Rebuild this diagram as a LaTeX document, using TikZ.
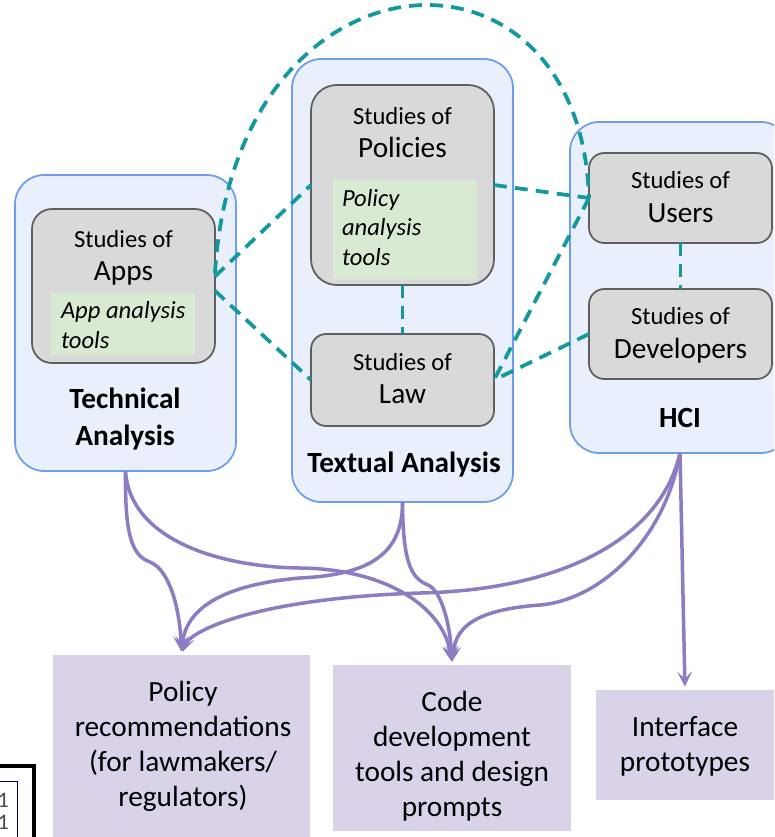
\documentclass[tikz,border=0pt]{standalone}
\usepackage{fontspec}
\setmainfont{Carlito}
\usetikzlibrary{arrows.meta}
\definecolor{areafill}{RGB}{233,240,251}
\definecolor{arealine}{RGB}{109,158,235}
\definecolor{studyfill}{RGB}{217,217,217}
\definecolor{studyline}{RGB}{95,95,95}
\definecolor{toolfill}{RGB}{217,234,211}
\definecolor{outfill}{RGB}{217,210,233}
\definecolor{linkcol}{RGB}{18,152,158}
\definecolor{feedcol}{RGB}{142,124,195}

\begin{document}
\begin{tikzpicture}[x=0.03cm,y=-0.03cm,inner sep=0pt,outer sep=0pt,
    area/.style={draw=arealine,fill=areafill,line width=1.5pt,rounded corners=25pt},
    study/.style={draw=studyline,fill=studyfill,line width=1.5pt,minimum width=5.49cm},
    toolbox/.style={fill=toolfill,minimum width=4.32cm},
    outbox/.style={fill=outfill},
    sub/.style={anchor=base,font=\fontsize{21}{25}\selectfont},
    big/.style={anchor=base,font=\fontsize{25}{30}\selectfont},
    tooltext/.style={anchor=base west,align=left,font=\fontsize{21}{25}\selectfont\itshape},
    head/.style={anchor=base,align=center,font=\fontsize{25}{31.5}\selectfont\bfseries},
    outtext/.style={anchor=base,align=center,font=\fontsize{25}{30}\selectfont},
    link/.style={draw=linkcol,line width=3.2pt,dash pattern=on 11pt off 7pt},
    feed/.style={draw=feedcol,line width=3pt,shorten >=3pt,-{Stealth[length=13pt,width=13pt,inset=6.5pt]}}]
    \path[clip,use as bounding box] (0,0) rectangle (774,837);
    \fill[white] (0,0) rectangle (774,837);

    \node (ta) [area,minimum width=6.63cm,minimum height=8.88cm] at (125.5,323) {};
    \node (txt) [area,minimum width=6.63cm,minimum height=13.29cm] at (402.5,280.5) {};
    \node (hci) [area,minimum width=6.6cm,minimum height=9.93cm] at (680,287.5) {};

    \node (apps) [study,minimum height=4.62cm,rounded corners=17pt] at (123.5,286) {};
    \node (pols) [study,minimum height=6cm,rounded corners=22pt] at (402.5,185) {};
    \node (law) [study,minimum height=2.76cm,rounded corners=13pt] at (402.5,380) {};
    \node (users) [study,minimum height=2.7cm,rounded corners=13pt] at (680.5,198) {};
    \node (devs) [study,minimum height=2.7cm,rounded corners=13pt] at (680.5,334) {};

    \node (appstool) [toolbox,minimum height=1.86cm] at (123,324) {};
    \node (polstool) [toolbox,minimum height=2.97cm] at (405,229.5) {};

    \node (appsa) [sub] at (123.5,247) {Studies of};
    \node (appsb) [big] at (123.5,280) {Apps};
    \node (appsc) [tooltext] at (61,348) {App analysis\\tools};
    \node (polsa) [sub] at (402.5,124) {Studies of};
    \node (polsb) [big] at (402.5,157) {Policies};
    \node (polsc) [tooltext] at (342,265) {Policy\\analysis\\tools};
    \node (lawa) [sub] at (402.5,370) {Studies of};
    \node (lawb) [big] at (402.5,403) {Law};
    \node (usersa) [sub] at (680.5,188) {Studies of};
    \node (usersb) [big] at (680.5,222) {Users};
    \node (devsa) [sub] at (680.5,324) {Studies of};
    \node (devsb) [big] at (680.5,358) {Developers};

    \node (tahead) [head] at (125,445) {Technical\\Analysis};
    \node (txthead) [head] at (404,472) {Textual Analysis};
    \node (hcihead) [head] at (680,427) {HCI};

    \node (pol) [outbox,minimum width=7.71cm,minimum height=5.85cm] at (181.5,752.5) {};
    \node (code) [outbox,minimum width=7.14cm,minimum height=4.98cm] at (452,748) {};
    \node (iface) [outbox,minimum width=5.34cm,minimum height=3.3cm] at (685,745) {};
    \node (polt) [outtext] at (183,806.7) {Policy\\recommendations\\(for lawmakers/\\regulators)};
    \node (codet) [outtext] at (452,816.7) {Code\\development\\tools and design\\prompts};
    \node (ifacet) [outtext] at (685,771.7) {Interface\\prototypes};

    \draw[link] (apps.6) -- (pols.west);
    \draw[link] (apps.-3) -- (law.west);
    \draw[link] (apps.8) .. controls (235,-60) and (580,-80) .. (users.west);
    \draw[link] (pols.east) -- (users.west);
    \draw[link] (users.west) -- (law.east);
    \draw[link] (devs.west) -- (law.east);
    \draw[link] (pols.south) -- (law.north);
    \draw[link] (users.south) -- (devs.north);

    \draw[feed] (ta.south) .. controls (125,530) and (130,555) .. (150,562) .. controls (170,570) and (180,610) .. (pol.north);
    \draw[feed] (ta.south) .. controls (130,540) and (220,567) .. (300,568) .. controls (390,569) and (445,610) .. (code.north);
    \draw[feed] (txt.south) .. controls (403,560) and (360,575) .. (300,578) .. controls (220,585) and (185,610) .. (pol.north);
    \draw[feed] (txt.south) .. controls (403,560) and (410,578) .. (428,585) .. controls (440,590) and (450,620) .. (code.north);
    \draw[feed] (hci.south) .. controls (660,540) and (560,590) .. (420,593) .. controls (260,598) and (190,630) .. (pol.north);
    \draw[feed] (hci.south) .. controls (665,540) and (600,600) .. (540,605) .. controls (470,610) and (455,630) .. (code.north);
    \draw[feed] (hci.south) -- (iface.north);

    \draw[line width=3.5pt] (-5,766) -- (34,766) -- (34,845);
    \draw[line width=0.8pt,blue!40!black] (-5,781) -- (17,781) -- (17,845);
    \node (bitsa) [anchor=east,font=\fontsize{19}{19}\selectfont,black!70] at (9,800) {01};
    \node (bitsb) [anchor=east,font=\fontsize{19}{19}\selectfont,black!70] at (9,822) {01};
\end{tikzpicture}
\end{document}
